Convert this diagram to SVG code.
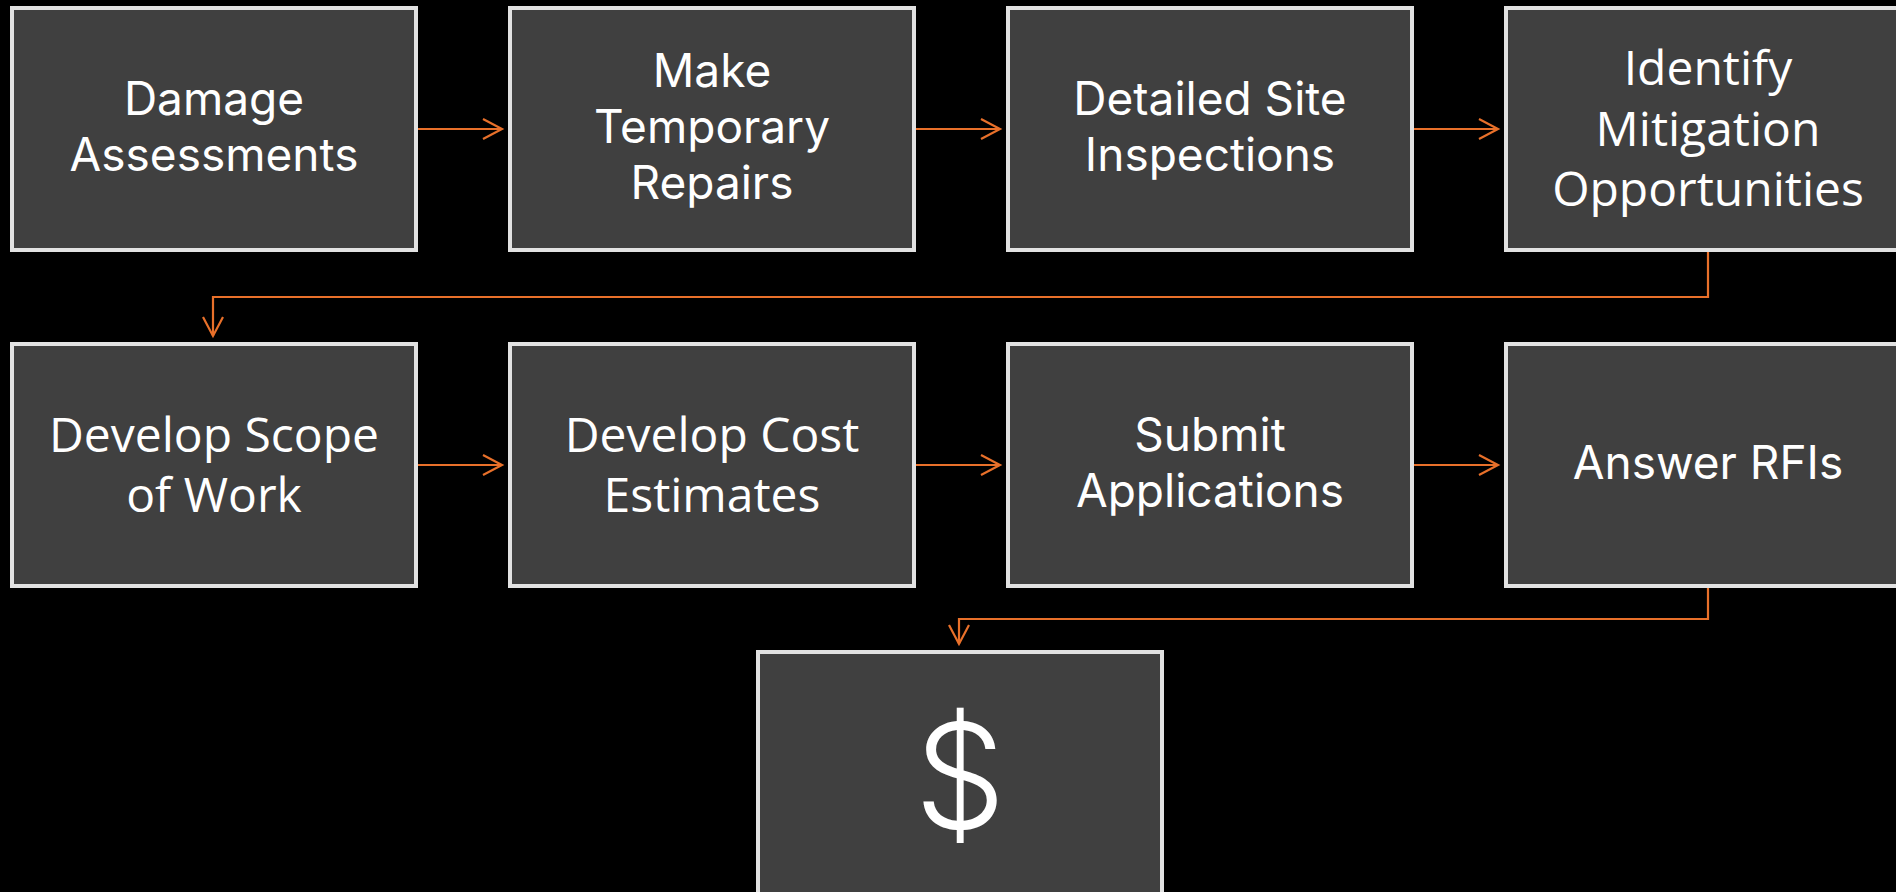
<svg xmlns="http://www.w3.org/2000/svg" width="1896" height="892" viewBox="0 0 1896 892">
<style>
.box{fill:#404040;stroke:#e2e2e2;stroke-width:4}
.a{font-family:Inter,"Liberation Sans",sans-serif;font-size:46px;fill:#fff;text-anchor:middle}
.s{font-family:"Open Sans","Noto Sans",sans-serif;font-size:48px;fill:#fff;text-anchor:middle}
.c{fill:none;stroke:#e8702a;stroke-width:2.2}
</style>
<defs>
<marker id="ah" markerUnits="userSpaceOnUse" markerWidth="24" markerHeight="24" refX="20" refY="11" orient="auto" viewBox="0 0 24 22">
<path d="M1,1 L20,11 L1,21" fill="none" stroke="#e8702a" stroke-width="2.2"/>
</marker>
</defs>
<rect width="1896" height="892" fill="#000"/>
<g id="connectors">
<path class="c" d="M418,129 H502" marker-end="url(#ah)"/>
<path class="c" d="M916,129 H1000" marker-end="url(#ah)"/>
<path class="c" d="M1414,129 H1498" marker-end="url(#ah)"/>
<path class="c" d="M1708,252 V297 H213 V336" marker-end="url(#ah)"/>
<path class="c" d="M418,465 H502" marker-end="url(#ah)"/>
<path class="c" d="M916,465 H1000" marker-end="url(#ah)"/>
<path class="c" d="M1414,465 H1498" marker-end="url(#ah)"/>
<path class="c" d="M1708,588 V619 H959 V644" marker-end="url(#ah)"/>
</g>
<g id="n1"><rect class="box" x="12" y="8" width="404" height="242"/><text class="a" x="214" y="115">Damage</text><text class="a" x="214" y="171">Assessments</text></g>
<g id="n2"><rect class="box" x="510" y="8" width="404" height="242"/><text class="a" x="712" y="87">Make</text><text class="a" x="712" y="143">Temporary</text><text class="a" x="712" y="199">Repairs</text></g>
<g id="n3"><rect class="box" x="1008" y="8" width="404" height="242"/><text class="a" x="1210" y="115">Detailed Site</text><text class="a" x="1210" y="171">Inspections</text></g>
<g id="n4"><rect class="box" x="1506" y="8" width="404" height="242"/><text class="s" x="1708" y="85">Identify</text><text class="s" x="1708" y="146">Mitigation</text><text class="s" x="1708" y="206">Opportunities</text></g>
<g id="n5"><rect class="box" x="12" y="344" width="404" height="242"/><text class="s" x="214" y="452">Develop Scope</text><text class="s" x="214" y="512">of Work</text></g>
<g id="n6"><rect class="box" x="510" y="344" width="404" height="242"/><text class="s" x="712" y="452">Develop Cost</text><text class="s" x="712" y="512">Estimates</text></g>
<g id="n7"><rect class="box" x="1008" y="344" width="404" height="242"/><text class="a" x="1210" y="451">Submit</text><text class="a" x="1210" y="507">Applications</text></g>
<g id="n8"><rect class="box" x="1506" y="344" width="404" height="242"/><text class="a" x="1708" y="479">Answer RFIs</text></g>
<g id="n9"><rect class="box" x="758" y="652" width="404" height="242"/><text class="a" x="960" y="828" style="font-size:145px;font-weight:300">$</text></g>
</svg>
